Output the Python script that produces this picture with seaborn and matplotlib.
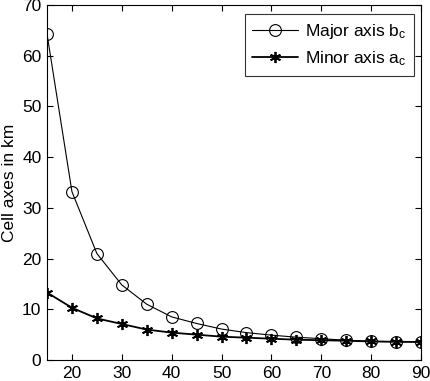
import matplotlib
matplotlib.use("Agg")
import matplotlib.pyplot as plt
import seaborn as sns
import pandas as pd

angles = [15, 20, 25, 30, 35, 40, 45, 50, 55, 60, 65, 70, 75, 80, 85, 90]
major_axis = [64.3, 33.2, 21.0, 14.8, 11.0, 8.5, 7.2, 6.1, 5.4, 4.9, 4.5, 4.2, 3.9, 3.7, 3.6, 3.6]
minor_axis = [13.3, 10.3, 8.2, 7.1, 6.0, 5.4, 5.0, 4.6, 4.4, 4.2, 4.0, 3.9, 3.8, 3.65, 3.6, 3.55]
labels = ["Major axis b$_c$", "Minor axis a$_c$"]
y_label = "Cell axes in km"

sns.set_style("ticks")
plt.rcParams["font.family"] = ["Liberation Sans", "DejaVu Sans"]
plt.rcParams["mathtext.default"] = "regular"
for k in ["text.color", "axes.labelcolor", "xtick.color", "ytick.color"]:
    plt.rcParams[k] = "black"

df = pd.DataFrame({"angle": angles, "major": major_axis, "minor": minor_axis})

fig = plt.figure(figsize=(4.30, 3.81), dpi=100)
ax = fig.add_axes([47 / 430, 1 - 360 / 381, 374 / 430, 355 / 381])

sns.lineplot(data=df, x="angle", y="major", ax=ax, color="black", lw=0.8,
             marker="o", markersize=8.5, markerfacecolor="none",
             markeredgecolor="black", markeredgewidth=0.8, label=labels[0])
sns.lineplot(data=df, x="angle", y="minor", ax=ax, color="black", lw=1.3,
             marker=(6, 2, 0), markersize=8, markerfacecolor="black",
             markeredgecolor="black", markeredgewidth=1.3, label=labels[1])

ax.set_xlim(15, 90)
ax.set_ylim(0, 70)
ax.set_xticks(range(20, 91, 10))
ax.set_yticks(range(0, 71, 10))
ax.set_xlabel("")
ax.set_ylabel(y_label, fontsize=12.5)
ax.tick_params(direction="in", top=True, right=True, labelsize=12.5, length=4, width=0.8, pad=4)
for s in ax.spines.values():
    s.set_visible(True)
    s.set_linewidth(0.8)
    s.set_color("black")

leg = ax.legend(loc="upper right", fontsize=12.5, frameon=True, fancybox=False,
                edgecolor="black", borderpad=0.45, handlelength=2.6,
                handletextpad=0.4, labelspacing=0.5, borderaxespad=0,
                bbox_to_anchor=(0.981, 0.975))
leg.get_frame().set_linewidth(0.8)

fig.savefig("out.png", dpi=100)
